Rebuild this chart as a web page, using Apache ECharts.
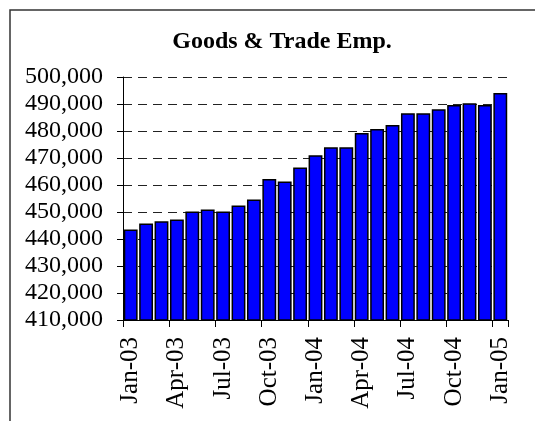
<!DOCTYPE html>
<html>
<head>
<meta charset="utf-8">
<script src="https://cdn.jsdelivr.net/npm/echarts@6/dist/echarts.min.js"></script>
<style>html,body{margin:0;padding:0;background:#fff}#c{width:535px;height:421px}</style>
</head>
<body>
<div id="c"></div>
<script>
var categories = ["Jan-03","Feb-03","Mar-03","Apr-03","May-03","Jun-03","Jul-03","Aug-03","Sep-03","Oct-03","Nov-03","Dec-03",
  "Jan-04","Feb-04","Mar-04","Apr-04","May-04","Jun-04","Jul-04","Aug-04","Sep-04","Oct-04","Nov-04","Dec-04","Jan-05"];
var employment = [443500,445700,446600,447200,450200,450900,450200,452400,454600,462200,461300,466500,
  471000,474000,474000,479300,480700,482200,486600,486600,488100,489600,490300,489600,494100];
var yMin = 410000, yMax = 500000, yStep = 10000;
var titleText = "Goods & Trade Emp.";

var chart = echarts.init(document.getElementById('c'));
var serif = "'Liberation Serif','Times New Roman',serif";
chart.setOption({
  animation: false,
  backgroundColor: '#fff',
  title: {
    text: titleText, left: 277, top: 25, textAlign: 'center',
    textStyle: {fontFamily: serif, fontWeight: 'bold', fontSize: 24, color: '#000'}
  },
  graphic: [{
    type: 'rect', shape: {x: 10, y: 10, width: 600, height: 500},
    style: {fill: 'none', stroke: '#333', lineWidth: 1.5}, silent: true
  }],
  grid: {left: 123, right: 27, top: 77, bottom: 101, containLabel: false},
  xAxis: {
    type: 'category', data: categories, boundaryGap: true,
    axisLine: {lineStyle: {color: '#000', width: 1}},
    axisTick: {show: true, interval: 2, alignWithLabel: false, length: 7, lineStyle: {color: '#000'}},
    axisLabel: {interval: 2, rotate: 90, margin: 17, fontFamily: serif, fontSize: 25, color: '#000'},
    splitLine: {show: false}
  },
  yAxis: {
    type: 'value', min: yMin, max: yMax, interval: yStep,
    axisLine: {show: true, lineStyle: {color: '#000', width: 1}},
    axisTick: {show: true, length: 6, lineStyle: {color: '#000'}},
    axisLabel: {margin: 20, fontFamily: serif, fontSize: 24, color: '#000',
      formatter: function (v) { return v.toLocaleString('en-US'); }},
    splitLine: {show: true, lineStyle: {color: '#222', width: 1, type: [9, 6]}}
  },
  series: [{
    type: 'bar', data: employment, barCategoryGap: '10%',
    itemStyle: {color: '#0000ff', borderColor: '#000', borderWidth: 1.5}
  }]
});
</script>
</body>
</html>
